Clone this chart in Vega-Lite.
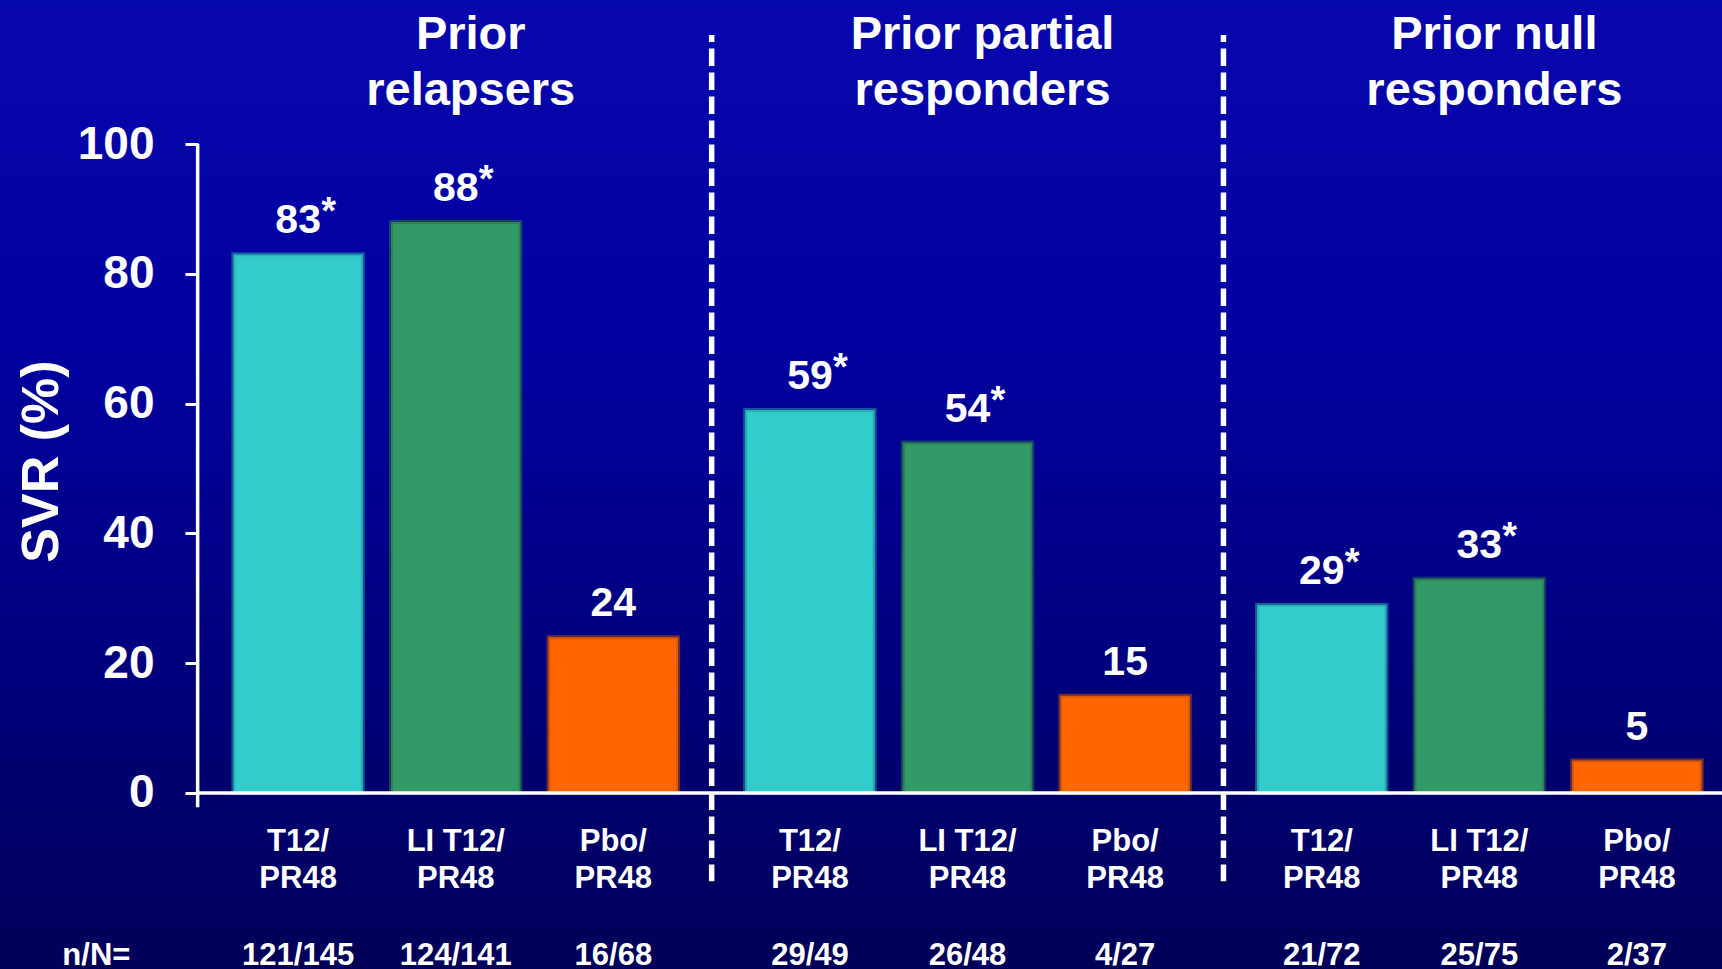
{
  "$schema": "https://vega.github.io/schema/vega-lite/v6.json",
  "width": 1722,
  "height": 969,
  "autosize": {"type": "none"},
  "padding": 0,
  "background": "#000080",
  "config": {
    "view": {"stroke": null},
    "font": "Liberation Sans"
  },
  "datasets": {
    "svr": [
      {"group": "Prior relapsers", "arm": "T12/\nPR48", "svr": 83, "nN": "121/145", "star": "*"},
      {"group": "Prior relapsers", "arm": "LI T12/\nPR48", "svr": 88, "nN": "124/141", "star": "*"},
      {"group": "Prior relapsers", "arm": "Pbo/\nPR48", "svr": 24, "nN": "16/68", "star": ""},
      {"group": "Prior partial responders", "arm": "T12/\nPR48", "svr": 59, "nN": "29/49", "star": "*"},
      {"group": "Prior partial responders", "arm": "LI T12/\nPR48", "svr": 54, "nN": "26/48", "star": "*"},
      {"group": "Prior partial responders", "arm": "Pbo/\nPR48", "svr": 15, "nN": "4/27", "star": ""},
      {"group": "Prior null responders", "arm": "T12/\nPR48", "svr": 29, "nN": "21/72", "star": "*"},
      {"group": "Prior null responders", "arm": "LI T12/\nPR48", "svr": 33, "nN": "25/75", "star": "*"},
      {"group": "Prior null responders", "arm": "Pbo/\nPR48", "svr": 5, "nN": "2/37", "star": ""}
    ],
    "titles": [
      {"group": "Prior relapsers", "title": "Prior\nrelapsers"},
      {"group": "Prior partial responders", "title": "Prior partial\nresponders"},
      {"group": "Prior null responders", "title": "Prior null\nresponders"}
    ]
  },
  "layer": [
    {
      "data": {"values": [{}]},
      "mark": {
        "type": "rect",
        "fill": {
          "gradient": "linear",
          "x1": 0, "y1": 0, "x2": 0, "y2": 1,
          "stops": [
            {"offset": 0, "color": "#0707AE"},
            {"offset": 0.35, "color": "#0101A0"},
            {"offset": 0.7, "color": "#00007C"},
            {"offset": 1, "color": "#000058"}
          ]
        }
      }
    },
    {
      "data": {"name": "svr"},
      "mark": {"type": "bar", "strokeWidth": 4, "strokeOpacity": 0.55},
      "encoding": {
        "x": {
          "field": "group",
          "type": "nominal",
          "scale": {
            "domain": ["Prior relapsers", "Prior partial responders", "Prior null responders"],
            "paddingInner": 0.131,
            "paddingOuter": 0.2478,
            "align": 0.92
          },
          "axis": null
        },
        "xOffset": {
          "field": "arm",
          "type": "nominal",
          "scale": {
            "domain": ["T12/\nPR48", "LI T12/\nPR48", "Pbo/\nPR48"],
            "paddingInner": 0.178,
            "paddingOuter": 0
          }
        },
        "y": {
          "field": "svr",
          "type": "quantitative",
          "scale": {"domain": [-27.12, 122.19], "nice": false, "zero": false},
          "axis": {
            "zindex": 2,
            "values": [0, 20, 40, 60, 80, 100],
            "title": "SVR (%)",
            "domain": false,
            "grid": false,
            "ticks": true,
            "tickSize": 13,
            "tickWidth": 3,
            "tickColor": "white",
            "labelColor": "white",
            "labelFont": "Liberation Sans",
            "labelFontSize": 46,
            "labelFontWeight": "bold",
            "labelPadding": 31,
            "labelFlush": false,
            "labelOverlap": false,
            "offset": -198,
            "titleColor": "white",
            "titleFont": "Liberation Sans",
            "titleFontSize": 52,
            "titleFontWeight": "bold",
            "titleAngle": -90,
            "titleAlign": "center",
            "titleBaseline": "alphabetic",
            "titleX": -141,
            "titleY": 461
          }
        },
        "y2": {"datum": 0},
        "fill": {
          "field": "arm",
          "type": "nominal",
          "scale": {
            "domain": ["T12/\nPR48", "LI T12/\nPR48", "Pbo/\nPR48"],
            "range": ["#33CCCC", "#339966", "#FF6600"]
          },
          "legend": null
        },
        "stroke": {
          "field": "arm",
          "type": "nominal",
          "scale": {
            "domain": ["T12/\nPR48", "LI T12/\nPR48", "Pbo/\nPR48"],
            "range": ["#23979E", "#276E4B", "#C24E0A"]
          },
          "legend": null
        }
      }
    },
    {
      "data": {"name": "svr"},
      "mark": {"type": "text", "color": "white", "fontSize": 41, "fontWeight": "bold", "baseline": "alphabetic", "dy": -21},
      "encoding": {
        "x": {"field": "group", "type": "nominal"},
        "xOffset": {"field": "arm", "type": "nominal"},
        "y": {"field": "svr", "type": "quantitative"},
        "text": {"field": "svr", "type": "quantitative"}
      }
    },
    {
      "data": {"name": "svr"},
      "transform": [{"filter": "datum.star == '*'"}],
      "mark": {"type": "text", "color": "white", "fontSize": 38, "fontWeight": "bold", "baseline": "alphabetic", "align": "left", "dx": 23, "dy": -30},
      "encoding": {
        "x": {"field": "group", "type": "nominal"},
        "xOffset": {"field": "arm", "type": "nominal"},
        "y": {"field": "svr", "type": "quantitative"},
        "text": {"field": "star", "type": "nominal"}
      }
    },
    {
      "data": {"name": "svr"},
      "mark": {"type": "text", "color": "white", "fontSize": 31, "fontWeight": "bold", "baseline": "alphabetic", "lineBreak": "\n", "lineHeight": 37, "dy": 58},
      "encoding": {
        "x": {"field": "group", "type": "nominal"},
        "xOffset": {"field": "arm", "type": "nominal"},
        "y": {"datum": 0},
        "text": {"field": "arm", "type": "nominal"}
      }
    },
    {
      "data": {"name": "svr"},
      "mark": {"type": "text", "color": "white", "fontSize": 31, "fontWeight": "bold", "baseline": "alphabetic", "dy": 172},
      "encoding": {
        "x": {"field": "group", "type": "nominal"},
        "xOffset": {"field": "arm", "type": "nominal"},
        "y": {"datum": 0},
        "text": {"field": "nN", "type": "nominal"}
      }
    },
    {
      "data": {"values": [{"group": "Prior relapsers", "label": "n/N="}]},
      "mark": {"type": "text", "color": "white", "fontSize": 31, "fontWeight": "bold", "baseline": "alphabetic", "dx": -137, "dy": 172},
      "encoding": {
        "x": {"field": "group", "type": "nominal", "bandPosition": 0},
        "y": {"datum": 0},
        "text": {"field": "label", "type": "nominal"}
      }
    },
    {
      "data": {"name": "titles"},
      "mark": {"type": "text", "color": "white", "fontSize": 47, "fontWeight": "bold", "baseline": "alphabetic", "lineBreak": "\n", "lineHeight": 56, "dx": 15, "dy": -95},
      "encoding": {
        "x": {"field": "group", "type": "nominal"},
        "y": {"datum": 100},
        "text": {"field": "title", "type": "nominal"}
      }
    },
    {
      "data": {"values": [{"group": "Prior partial responders"}, {"group": "Prior null responders"}]},
      "mark": {"type": "rule", "color": "white", "strokeWidth": 5.5, "strokeDash": [17.5, 6.5], "strokeDashOffset": 10.5},
      "encoding": {
        "x": {"field": "group", "type": "nominal", "bandPosition": -0.0753},
        "y": {"datum": 116.8},
        "y2": {"datum": -13.6}
      }
    },
    {
      "data": {"values": [{"group": "Prior relapsers"}]},
      "mark": {"type": "rule", "color": "white", "strokeWidth": 3.5},
      "encoding": {
        "x": {"field": "group", "type": "nominal", "bandPosition": -0.0803},
        "y": {"datum": 100},
        "y2": {"datum": -2.2}
      }
    },
    {
      "data": {"values": [{"group": "Prior relapsers"}]},
      "mark": {"type": "rule", "color": "white", "strokeWidth": 3.5},
      "encoding": {
        "x": {"field": "group", "type": "nominal", "bandPosition": -0.0803},
        "x2": {"value": "width"},
        "y": {"datum": 0}
      }
    }
  ]
}
